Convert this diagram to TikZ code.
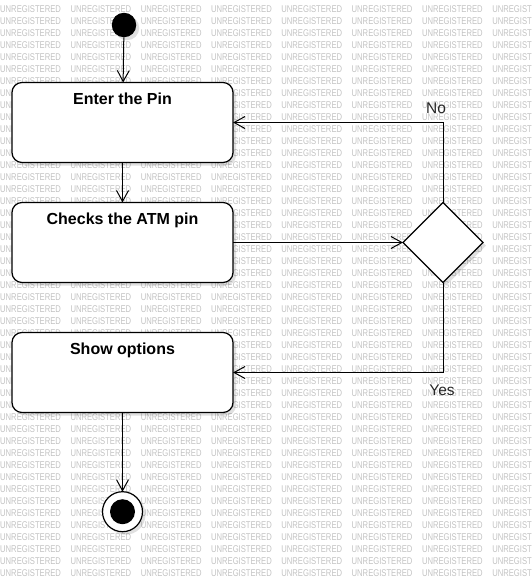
\documentclass[tikz,border=0pt]{standalone}
\usepackage{fontspec}
\setmainfont{Liberation Sans}
\usetikzlibrary{arrows.meta}
\usetikzlibrary{shapes.geometric}
\usetikzlibrary{shadows}

\tikzset{
  softshadow/.style = {drop shadow = {shadow xshift = 3pt, shadow yshift = -3pt,
      fill = black, opacity = .12}},
  actbox/.style = {draw, line width = 1.2pt, fill = white, rounded corners = 10pt,
    minimum width = 221pt, minimum height = 80pt, inner sep = 0pt, outer sep = 0pt,
    softshadow},
  boxtitle/.style = {anchor = north, inner sep = 0pt, yshift = -10pt,
    font = \fontsize{16}{19}\selectfont\bfseries},
  flow/.style = {line width = 1pt, -{Straight Barb[length = 11pt, width = 12pt, line width = 1pt]}},
  wmark/.style = {anchor = base west, inner sep = 0pt, text = black!24,
    font = \fontsize{9.8}{10}\selectfont},
  branch/.style = {inner sep = 0pt, text = black!85, font = \fontsize{15.5}{18}\selectfont}
}

\begin{document}
\begin{tikzpicture}[x = 1pt, y = -1pt]
  \useasboundingbox (0, 0) rectangle (532, 582);
  \clip (0, 0) rectangle (532, 582);

  % background stamp
  \foreach \row in {0, ..., 47}
    \foreach \col in {0, ..., 7}
      \node[wmark] at (70.3 * \col, 12.7 + 12 * \row) {\scalebox{0.78}[1]{UNREGISTERED}};

  \node[circle, fill = black, minimum size = 24.5pt, inner sep = 0pt, softshadow] (start) at (124, 25) {};

  \node[actbox, label = {[boxtitle]north:Enter the Pin}] (enter) at (122.5, 122.5) {};
  \node[actbox, label = {[boxtitle]north:Checks the ATM pin}] (check) at (122.5, 242.5) {};
  \node[actbox, label = {[boxtitle]north:Show options}] (show) at (122.5, 372.5) {};

  \node[diamond, draw, line width = 1.2pt, fill = white, minimum width = 80pt,
    minimum height = 80pt, inner sep = 0pt, outer sep = 0pt, softshadow] (decide) at (443, 242.5) {};

  \node[circle, draw, line width = 1.2pt, fill = white, minimum size = 40pt, inner sep = 0pt,
    outer sep = 0pt, softshadow] (final) at (122.5, 511.7) {};
  \fill (final.center) circle[radius = 12.5pt];

  \draw[flow] (start) -- (enter);
  \draw[flow] (enter) -- (check);
  \draw[flow] (check) -- (decide);
  \draw[flow] (decide.north) |- (enter.east);
  \draw[flow] (decide.south) |- (show.east);
  \draw[flow] (show) -- (final);

  \node[branch] (nolbl) at (436, 108) {No};
  \node[branch] (yeslbl) at (442, 390) {Yes};
\end{tikzpicture}
\end{document}
